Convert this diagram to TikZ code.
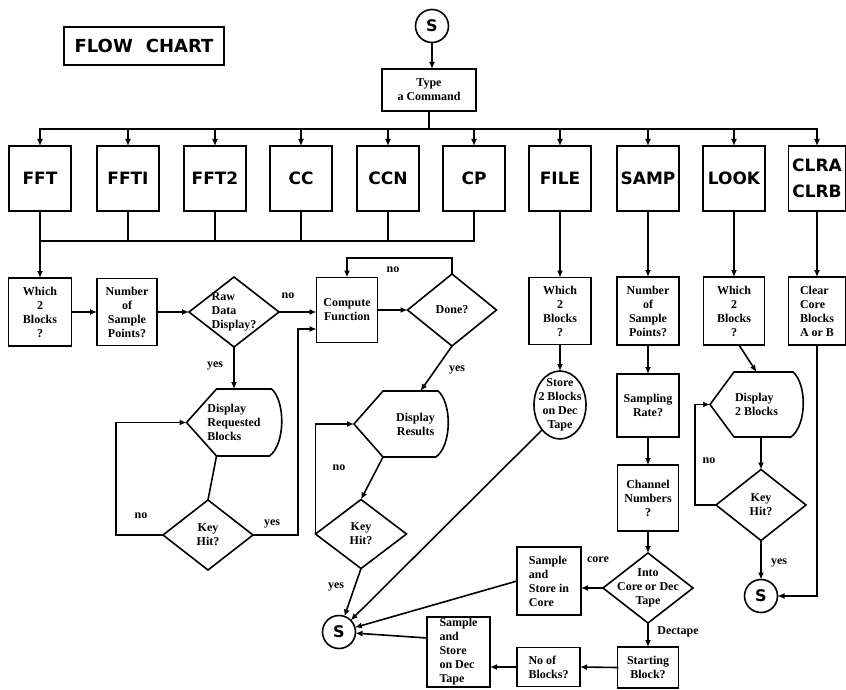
\documentclass[tikz,border=0pt]{standalone}
\usepackage{fontspec}
\setmainfont{Liberation Serif}
\newfontfamily\cmdfont{DejaVu Sans}
\usetikzlibrary{arrows.meta,calc}
\tikzset{
 ln/.style={line width=1.6pt, line cap=rect},
 arr/.style={ln, -{Latex[length=7pt,width=6pt]}},
 txtnode/.style={rectangle, inner sep=0pt, outer sep=0pt, align=center, font=\bfseries\fontsize{12}{14}\selectfont},
 boxnode/.style={txtnode, draw, ln},
 cmd/.style={draw, ln, rectangle, inner sep=0pt, outer sep=0pt, minimum width=62pt, minimum height=65pt, align=center, font=\cmdfont\bfseries\fontsize{17}{26}\selectfont},
 scirc/.style={draw, ln, circle, inner sep=0pt, outer sep=0pt, minimum size=33pt, font=\cmdfont\bfseries\fontsize{16}{16}\selectfont},
 lbl/.style={inner sep=0pt, font=\bfseries\fontsize{12}{14}\selectfont},
 sz/.style 2 args={minimum width=#1pt, minimum height=#2pt},
}
\newcommand\mydiam[1]{\draw[ln] (#1.north)--(#1.east)--(#1.south)--(#1.west)--cycle;}
\newcommand\mydisp[3]{\draw[ln] ($(#1.west)+(-#2,0)$) -- ($(#1.north west)+(#3,0)$) -- ($(#1.north east)+(-10,0)$) .. controls ($(#1.north east)+(4,12)$) and ($(#1.south east)+(4,-12)$) .. ($(#1.south east)+(-12,0)$) -- ($(#1.south west)+(#3,0)$) -- cycle;}
\begin{document}
\begin{tikzpicture}[x=1pt,y=-1pt]
\useasboundingbox[fill=white] (0,0) rectangle (846,690);
% title
\node[draw, ln, sz={160}{38}, inner sep=0pt, font=\cmdfont\bfseries\fontsize{18}{18}\selectfont] (title) at (144,46) {FLOW\hspace{13pt}CHART};
% start
\node[scirc] (s0) at (432,26) {S};
\node[boxnode, sz={94}{42}] (tc) at (429,90) {Type\\a Command};
% command boxes
\node[cmd] (fft) at (40,178.5) {FFT};
\node[cmd] (ffti) at (128,178.5) {FFTI};
\node[cmd] (fft2) at (215,178.5) {FFT2};
\node[cmd] (cc) at (301,178.5) {CC};
\node[cmd] (ccn) at (388,178.5) {CCN};
\node[cmd] (cp) at (474,178.5) {CP};
\node[cmd] (file) at (560,178.5) {FILE};
\node[cmd] (samp) at (648,178.5) {SAMP};
\node[cmd] (look) at (734,178.5) {LOOK};
\node[cmd, minimum width=57pt] (clr) at (817,178.5) {CLRA\\CLRB};
% row 2
\node[boxnode, sz={63}{68}] (wb1) at (40,312) {Which\\2\\Blocks\\?};
\node[boxnode, sz={60}{67}] (nsp1) at (127,312) {Number\\of\\Sample\\Points?};
\node[txtnode, sz={90}{70}, align=left] (raw) at (234,312) {Raw\\Data\\Display?};
\mydiam{raw}
\node[boxnode, sz={61}{65}] (cf) at (347,310) {Compute\\Function};
\node[txtnode, sz={89}{72}] (done) at (452,310) {Done?};
\mydiam{done}
\node[boxnode, sz={62}{67}] (wb2) at (560,311) {Which\\2\\Blocks\\?};
\node[boxnode, sz={62}{68}] (nsp2) at (648,311) {Number\\of\\Sample\\Points?};
\node[boxnode, sz={61}{68}] (wb3) at (734,311) {Which\\2\\Blocks\\?};
\node[boxnode, sz={57}{68}, align=left] (clrc) at (817,311) {Clear\\Core\\Blocks\\A or B};
% row 3
\node[txtnode, sz={95}{67}, align=left] (drb) at (234,422.5) {Display\\Requested\\Blocks};
\mydisp{drb}{0}{30}
\node[txtnode, sz={65}{66}] (dr) at (415.5,424) {Display\\Results};
\mydisp{dr}{29}{0}
\node[txtnode, sz={52}{68}] (store) at (560,405) {Store\\2 Blocks\\on Dec\\Tape};
\draw[ln] (store.center) ellipse [x radius=26pt, y radius=34pt];
\node[boxnode, sz={62}{63}] (sr) at (648,405.5) {Sampling\\Rate?};
\node[txtnode, sz={93}{65}, align=left] (d2b) at (756.5,404.5) {Display\\2 Blocks};
\mydisp{d2b}{0}{24}
% row 4
\node[txtnode, sz={90}{70}] (kh1) at (208,535) {Key\\Hit?};
\mydiam{kh1}
\node[txtnode, sz={91}{69}] (kh2) at (361,534) {Key\\Hit?};
\mydiam{kh2}
\node[boxnode, sz={61}{66}] (cn) at (648,498) {Channel\\Numbers\\?};
\node[txtnode, sz={90}{71}] (kh3) at (761,505) {Key\\Hit?};
\mydiam{kh3}
% row 5
\node[scirc] (s1) at (339,632) {S};
\node[boxnode, sz={64}{68}, align=left] (ssc) at (549,581) {Sample\\and\\Store in\\Core};
\node[txtnode, sz={90}{70}] (icd) at (648,588) {Into\\Core or Dec\\Tape};
\mydiam{icd}
\node[scirc] (s3) at (761,596) {S};
\node[boxnode, sz={63}{70}, align=left] (ssd) at (458.5,652) {Sample\\and\\Store\\on Dec\\Tape};
\node[boxnode, sz={63}{39}, align=left] (nob) at (548.5,667) {No of\\Blocks?};
\node[boxnode, sz={61}{41}] (sb) at (648,667.5) {Starting\\Block?};
% labels
\node[lbl] (l1) at (288,296) {no};
\node[lbl] (l2) at (215,366) {yes};
\node[lbl] (l3) at (393,270) {no};
\node[lbl] (l4) at (457,370) {yes};
\node[lbl] (l5) at (141,516) {no};
\node[lbl] (l6) at (272,524) {yes};
\node[lbl] (l7) at (339,468) {no};
\node[lbl] (l8) at (336,587) {yes};
\node[lbl] (l9) at (598,560) {core};
\node[lbl] (l10) at (678,632) {Dectape};
\node[lbl] (l11) at (709,461) {no};
\node[lbl] (l12) at (779,563) {yes};
% connectors: top
\draw[arr] (s0.south) -- (s0.south |- tc.north);
\coordinate (bl) at (40,129);
\coordinate (br) at (817,129);
\draw[ln] (tc.south) -- (tc.south |- bl);
\draw[ln] (bl) -- (br);
\foreach \n in {fft,ffti,fft2,cc,ccn,cp,file,samp,look,clr}
  \draw[arr] (\n.north |- bl) -- (\n.north);
% lower bus
\coordinate (lb) at (40,241);
\draw[arr] (fft.south) -- (wb1.north);
\draw[ln] (lb) -- (cp.south |- lb);
\foreach \n in {ffti,fft2,cc,ccn,cp}
  \draw[ln] (\n.south) -- (\n.south |- lb);
\draw[arr] (file.south) -- (wb2.north);
\draw[arr] (samp.south) -- (nsp2.north);
\draw[arr] (look.south) -- (wb3.north);
\draw[arr] (clr.south) -- (clrc.north);
% FFT group
\draw[arr] (wb1.east) -- (nsp1.west);
\draw[arr] (nsp1.east) -- (raw.west);
\draw[arr] (raw.east) -- (raw.east -| cf.west);
\draw[arr] (cf.east) -- (done.west);
\draw[arr] (done.north) -- ++(0,-16) -| (cf.north);
\draw[arr] (raw.south) -- (drb.north);
\draw[ln] ($(drb.south west)+(30,0)$) -- (kh1.north);
\draw[arr] (kh1.west) -- ++(-47,0) |- (drb.west);
\draw[arr] (kh1.east) -- ++(45,0) |- ($(cf.west)+(0,19)$);
\draw[arr] (done.south) -- ($(dr.north)+(5,0)$);
\draw[arr] (dr.south west) -- (kh2.north);
\draw[arr] (kh2.west) |- ($(dr.west)+(-29,0)$);
\draw[arr] (kh2.south) -- (s1);
% FILE
\draw[arr] (wb2.south) -- (store.north);
\draw[arr] ($(store.center)+(-18,25)$) -- (s1);
% SAMP
\draw[arr] (nsp2.south) -- (sr.north);
\draw[arr] (sr.south) -- (cn.north);
\draw[arr] (cn.south) -- (icd.north);
\draw[arr] (icd.west) -- (ssc.east |- icd.west);
\draw[arr] (icd.south) -- (sb.north);
\draw[arr] (sb.west) -- (nob.east);
\draw[arr] (nob.west) -- (nob.west -| ssd.east);
\draw[arr] (ssc.west) -- (s1);
\draw[arr] ($(ssd.west)+(0,-14)$) -- (s1);
% LOOK
\draw[arr] ($(wb3.south)+(5,0)$) -- (d2b.north);
\draw[arr] (d2b.south -| kh3.north) -- (kh3.north);
\draw[arr] (kh3.west) -- ++(-21,0) |- (d2b.west);
\draw[arr] (kh3.south) -- (s3);
% CLR
\draw[arr] (clrc.south) |- (s3.east);
\end{tikzpicture}
\end{document}
